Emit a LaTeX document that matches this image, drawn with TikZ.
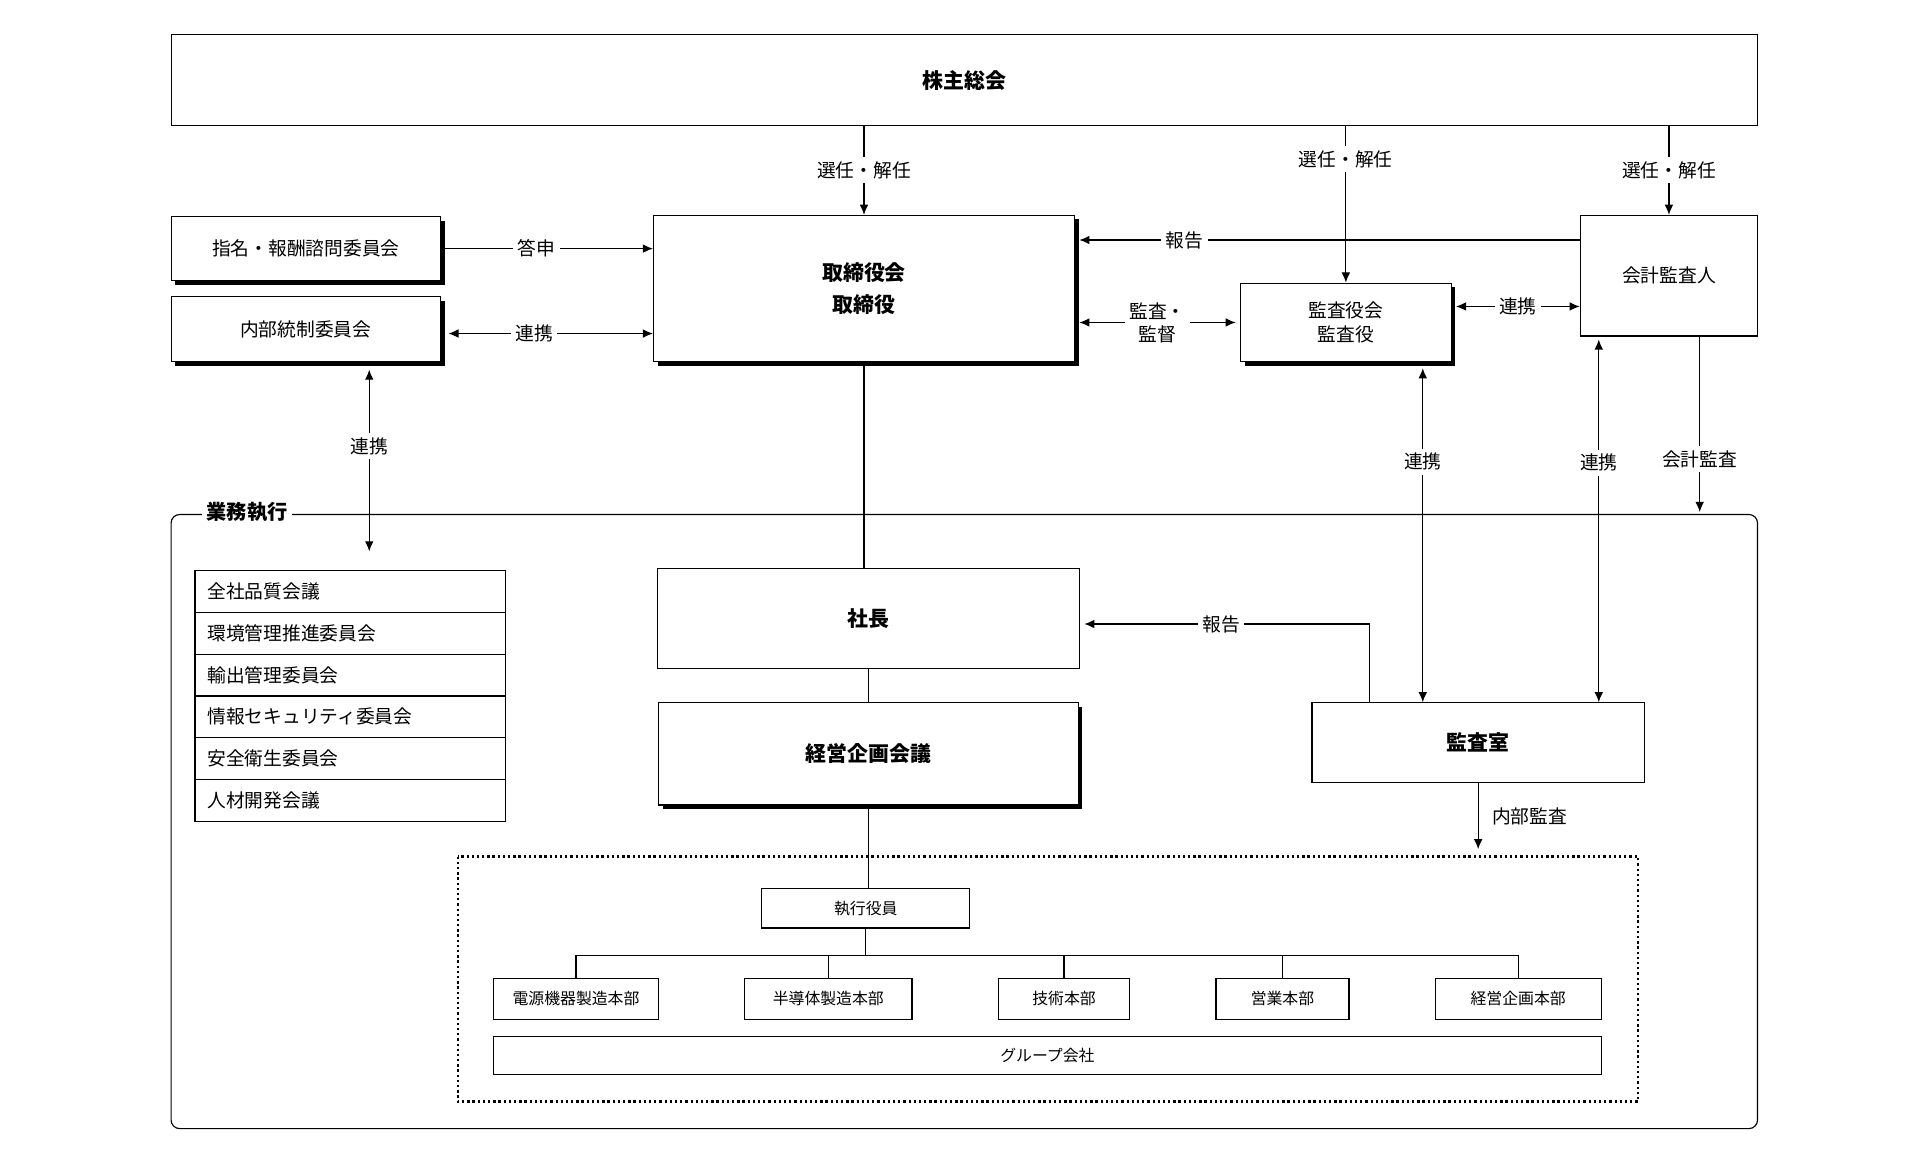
\documentclass[tikz,border=0pt]{standalone}
\usepackage{fontspec}
\setmainfont{Noto Sans CJK JP}
\usetikzlibrary{arrows.meta,shadows}
\begin{document}
\begin{tikzpicture}[x=0.03cm,y=-0.03cm,line width=0.8pt,>={Latex[length=7pt,width=6pt]}]

		\tikzset{box/.style={rectangle,draw=black,fill=white,inner sep=0pt,align=center,font=\fontsize{13}{17}\selectfont},
			big/.style={box,font=\fontsize{14.5}{22}\selectfont\bfseries},
			small/.style={box,font=\fontsize{11}{13}\selectfont},
			shade/.style={drop shadow={opacity=1,fill=black,shadow xshift=0.1cm,shadow yshift=-0.1cm}},
			lbl/.style={fill=white,inner sep=3pt,font=\fontsize{13}{17}\selectfont}}

		\useasboundingbox (0,0) rectangle (1560,943);

		% frames
		\draw[rounded corners=6] (139,418) rectangle (1428,917);
		\node[lbl,font=\fontsize{14}{17}\selectfont\bfseries,anchor=west] (exec) at (164,416) {業務執行};
		\draw[dotted,line width=1.6pt] (372,696) rectangle (1331,895);

		% upper nodes
		\node[big,minimum width=1289*0.03cm,minimum height=74*0.03cm] (gm) at (783.5,65) {株主総会};
		\node[box,shade,minimum width=219*0.03cm,minimum height=52*0.03cm] (nom) at (248.5,202) {指名・報酬諮問委員会};
		\node[box,shade,minimum width=219*0.03cm,minimum height=53*0.03cm] (ic) at (248.5,267.5) {内部統制委員会};
		\node[big,shade,minimum width=342*0.03cm,minimum height=119*0.03cm] (bod) at (702,234.5) {取締役会\\取締役};
		\node[box,shade,minimum width=171*0.03cm,minimum height=64*0.03cm] (asb) at (1093.5,262) {監査役会\\監査役};
		\node[box,minimum width=144*0.03cm,minimum height=98*0.03cm] (acc) at (1356,224) {会計監査人};

		% lower nodes
		\node[big,minimum width=343*0.03cm,minimum height=81*0.03cm] (pres) at (705.5,502.5) {社長};
		\node[big,shade,minimum width=341*0.03cm,minimum height=83*0.03cm] (mgmt) at (705.5,612.5) {経営企画会議};
		\node[big,minimum width=270*0.03cm,minimum height=65*0.03cm] (audit) at (1201,603.5) {監査室};
		\node[small,minimum width=169*0.03cm,minimum height=32*0.03cm] (officer) at (703.5,738) {執行役員};
		\foreach \n/\x/\w/\t in {d1/468/134/電源機器製造本部,d2/673/136/半導体製造本部,d3/864.5/107/技術本部,d4/1042/108/営業本部,d5/1233.5/135/経営企画本部}
			\node[small,minimum width=\w*0.03cm,minimum height=33*0.03cm] (\n) at (\x,811.5) {\t};
		\node[small,minimum width=900*0.03cm,minimum height=31*0.03cm] (group) at (851,857.5) {グループ会社};

		% committee list
		\foreach \t [count=\i] in {全社品質会議,環境管理推進委員会,輸出管理委員会,情報セキュリティ委員会,安全衛生委員会,人材開発会議}
			\node[box,anchor=north west,minimum width=252*0.03cm,minimum height=34*0.03cm,text width=232*0.03cm,align=left] (c\i) at (158,463+34*\i-34) {\t};

		% election
		\draw[->] (gm.south -| bod) -- (bod.north) node[lbl,midway] {選任・解任};
		\draw[->] (gm.south -| asb) -- (asb.north) node[lbl,pos=0.21] {選任・解任};
		\draw[->] (gm.south -| acc) -- (acc.north) node[lbl,midway] {選任・解任};

		% upper links
		\draw[->] (nom.east) -- (bod.west |- nom.east) node[lbl,pos=0.45] {答申};
		\draw[<->] ([xshift=5pt]ic.east |- 0,271) -- (bod.west |- 0,271) node[lbl,pos=0.42] {連携};
		\draw[->] (acc.west |- 0,195) -- ([xshift=3pt]bod.east |- 0,195) node[lbl,pos=0.79] {報告};
		\draw[<->] ([xshift=3pt]bod.east |- 0,262) -- ([xshift=-3pt]asb.west) node[lbl,midway,align=center,font=\fontsize{13}{16}\selectfont] {監査・\\監督};
		\draw[<->] ([xshift=3pt]asb.east |- 0,249) -- (acc.west |- 0,249) node[lbl,midway] {連携};
		\draw[<->] ([yshift=-5pt]ic.south -| 300,0) -- (300,448) node[lbl,pos=0.42] {連携};

		% vertical chain
		\draw (bod.south) -- (pres.north -| bod.south);
		\draw (pres.south) -- (mgmt.north);
		\draw (mgmt.south) -- (officer.north -| mgmt.south);

		% audit links
		\draw[->] (audit.north -| 1113,0) |- ([xshift=3pt]pres.east |- 0,507) node[lbl,pos=0.76] {報告};
		\draw[<->] ([yshift=-4pt]asb.south -| 1156,0) -- (audit.north -| 1156,0) node[lbl,pos=0.28] {連携};
		\draw[<->] ([yshift=-2pt]acc.south -| 1299,0) -- (audit.north -| 1299,0) node[lbl,pos=0.34] {連携};
		\draw[->] (acc.south -| 1381,0) -- (1381,416) node[lbl,pos=0.70] {会計監査};
		\draw[->] (audit.south) -- (1201,690) node[midway,right=6pt,font=\fontsize{13}{17}\selectfont] {内部監査};

		% divisions
		\draw (officer.south) -- (officer.south |- 0,776);
		\draw (d1.north) |- (d5.north |- 0,776) -- (d5.north);
		\foreach \n in {d2,d3,d4}
			\draw (\n.north) -- (\n.north |- 0,776);

	\end{tikzpicture}
\end{document}
